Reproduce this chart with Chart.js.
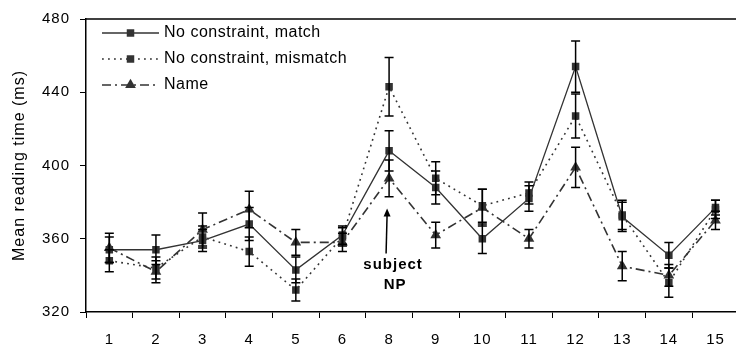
<!DOCTYPE html>
<html>
<head>
<meta charset="utf-8">
<script src="https://cdn.jsdelivr.net/npm/chart.js@4.4.1/dist/chart.umd.min.js"></script>
<style>
html,body{margin:0;padding:0;overflow:hidden;background:#fff;width:736px;height:348px;}
canvas{display:block;}
</style>
</head>
<body>
<canvas id="c" width="745" height="348"></canvas>
<script>
const categories = ['1','2','3','4','5','6','8','9','10','11','12','13','14','15'];
const matchValues    = [354, 354, 359, 368, 343, 362, 408, 388, 360, 382, 454, 372, 351, 377];
const matchErrors    = [7, 8, 6, 9, 7, 5, 11, 9, 8, 7, 14, 8, 7, 4];
const mismatchValues = [348, 344, 361, 353, 332, 361, 443, 393, 378, 385, 427, 373, 336, 376];
const mismatchErrors = [6, 6, 6, 8, 6, 5, 16, 9, 9, 6, 12, 8, 8, 5];
const nameValues     = [355, 342, 365, 376, 358, 358, 393, 362, 377, 360, 399, 345, 340, 370];
const nameErrors     = [8, 6, 9, 10, 7, 5, 10, 7, 10, 5, 11, 8, 6, 5];
const yTicks = [320, 360, 400, 440, 480];
const seriesNames = ['No constraint, match', 'No constraint, mismatch', 'Name'];
const annotationLines = ['subject', 'NP'];
const annotationCategory = '8';

const FONT = '"Liberation Sans", Arial, sans-serif';
const MARK = '#333333';

const errorSets = [matchErrors, mismatchErrors, nameErrors];

const spacingPlugin = {
  id: 'spacing',
  beforeDraw(chart) { chart.ctx.letterSpacing = '1px'; }
};

const errorBarPlugin = {
  id: 'errorBars',
  afterDatasetsDraw(chart) {
    const ctx = chart.ctx;
    const y = chart.scales.y;
    ctx.save();
    ctx.strokeStyle = '#000';
    ctx.lineWidth = 1.5;
    chart.data.datasets.forEach((ds, di) => {
      const meta = chart.getDatasetMeta(di);
      meta.data.forEach((pt, i) => {
        const v = ds.data[i], e = errorSets[di][i];
        const yt = y.getPixelForValue(v + e), yb = y.getPixelForValue(v - e);
        const x = pt.x;
        ctx.beginPath();
        ctx.moveTo(x, yt); ctx.lineTo(x, yb);
        ctx.moveTo(x - 4.5, yt); ctx.lineTo(x + 4.5, yt);
        ctx.moveTo(x - 4.5, yb); ctx.lineTo(x + 4.5, yb);
        ctx.stroke();
      });
    });
    ctx.restore();
  }
};

const framePlugin = {
  id: 'frameTop',
  afterDraw(chart) {
    const ctx = chart.ctx, a = chart.chartArea;
    ctx.save();
    ctx.strokeStyle = '#000';
    ctx.lineWidth = 1.5;
    ctx.beginPath();
    ctx.moveTo(a.left, a.top); ctx.lineTo(a.right, a.top);
    ctx.stroke();
    ctx.restore();
  }
};

const legendPlugin = {
  id: 'customLegend',
  afterDraw(chart) {
    const ctx = chart.ctx, a = chart.chartArea;
    ctx.save();
    const x0 = a.left + 16, x1 = a.left + 73, tx = a.left + 78;
    chart.data.datasets.forEach((ds, i) => {
      const yy = a.top + 14 + i * 26;
      ctx.strokeStyle = ds.borderColor;
      ctx.lineWidth = ds.borderWidth;
      ctx.setLineDash(ds.borderDash || []);
      ctx.beginPath(); ctx.moveTo(x0, yy); ctx.lineTo(x1, yy); ctx.stroke();
      ctx.setLineDash([]);
      ctx.fillStyle = MARK;
      const cx = (x0 + x1) / 2;
      if (ds.pointStyle === 'triangle') {
        const r = ds.pointRadius;
        ctx.beginPath();
        ctx.moveTo(cx, yy - r);
        ctx.lineTo(cx + r * 0.866, yy + r * 0.5);
        ctx.lineTo(cx - r * 0.866, yy + r * 0.5);
        ctx.closePath(); ctx.fill();
      } else {
        const s = ds.pointRadius * Math.SQRT1_2;
        ctx.fillRect(cx - s, yy - s, 2 * s, 2 * s);
      }
      ctx.fillStyle = '#000';
      ctx.font = '16px ' + FONT;
      ctx.letterSpacing = '0.5px';
      ctx.textBaseline = 'middle';
      ctx.textAlign = 'left';
      ctx.fillText(ds.label, tx, yy);
    });
    ctx.restore();
  }
};

const annotationPlugin = {
  id: 'subjectNP',
  afterDraw(chart) {
    const ctx = chart.ctx;
    const xs = chart.scales.x, ys = chart.scales.y;
    const x = xs.getPixelForValue(categories.indexOf(annotationCategory));
    const tipY = ys.getPixelForValue(376.5), baseY = ys.getPixelForValue(352);
    ctx.save();
    ctx.strokeStyle = '#000'; ctx.fillStyle = '#000';
    ctx.lineWidth = 1.5;
    ctx.beginPath(); ctx.moveTo(x - 3, baseY); ctx.lineTo(x - 2, tipY + 6); ctx.stroke();
    ctx.beginPath();
    ctx.moveTo(x - 2, tipY);
    ctx.lineTo(x + 1.5, tipY + 8);
    ctx.lineTo(x - 5.5, tipY + 8);
    ctx.closePath(); ctx.fill();
    ctx.font = 'bold 15px ' + FONT;
    ctx.letterSpacing = '1px';
    ctx.textAlign = 'center';
    ctx.textBaseline = 'middle';
    ctx.fillText(annotationLines[0], x + 4, ys.getPixelForValue(346));
    ctx.fillText(annotationLines[1], x + 6, ys.getPixelForValue(334.7));
    ctx.restore();
  }
};

new Chart(document.getElementById('c'), {
  type: 'line',
  data: {
    labels: categories,
    datasets: [
      { label: seriesNames[0], data: matchValues, borderColor: '#333', borderWidth: 1.3,
        pointStyle: 'rect', pointRadius: 5.3, pointBackgroundColor: MARK, pointBorderColor: MARK, pointBorderWidth: 0, tension: 0 },
      { label: seriesNames[1], data: mismatchValues, borderColor: '#333', borderWidth: 1.6, borderDash: [1.8, 4.2],
        pointStyle: 'rect', pointRadius: 5.3, pointBackgroundColor: MARK, pointBorderColor: MARK, pointBorderWidth: 0, tension: 0 },
      { label: seriesNames[2], data: nameValues, borderColor: '#333', borderWidth: 1.6, borderDash: [9, 4, 2, 4],
        pointStyle: 'triangle', pointRadius: 6.2, pointBackgroundColor: MARK, pointBorderColor: MARK, pointBorderWidth: 0, tension: 0 }
    ]
  },
  options: {
    responsive: false,
    animation: false,
    devicePixelRatio: 1,
    layout: { padding: { top: 18, left: 0, right: 0, bottom: 0 } },
    plugins: { legend: { display: false }, tooltip: { enabled: false } },
    scales: {
      x: {
        type: 'category',
        offset: true,
        border: { color: '#000', width: 1.5 },
        grid: { display: true, drawOnChartArea: false, drawTicks: true, tickLength: 6, color: '#000', offset: true },
        ticks: { color: '#000', font: { family: FONT, size: 15 }, padding: 13, maxRotation: 0, autoSkip: false },
        afterFit(s) { s.height = 36; }
      },
      y: {
        min: 320, max: 480,
        afterBuildTicks(s) { s.ticks = yTicks.map(v => ({ value: v })); },
        border: { color: '#000', width: 1.5 },
        grid: { display: true, drawOnChartArea: false, drawTicks: true, tickLength: 6, color: '#000' },
        ticks: { color: '#000', font: { family: FONT, size: 15 }, padding: 10 },
        title: { display: true, text: 'Mean reading time (ms)', color: '#000', font: { family: FONT, size: 16 }, padding: { top: 10, bottom: 0 } },
        afterFit(s) { s.width = 86; }
      }
    }
  },
  plugins: [spacingPlugin, errorBarPlugin, framePlugin, legendPlugin, annotationPlugin]
});
</script>
</body>
</html>
